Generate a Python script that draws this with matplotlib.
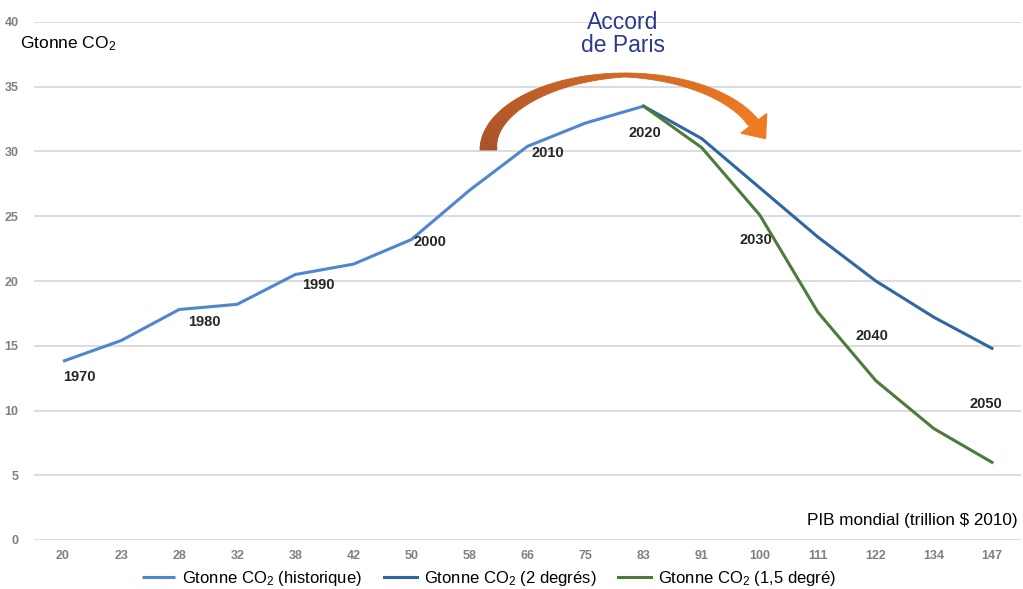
import matplotlib
matplotlib.use("Agg")
import matplotlib.pyplot as plt
import numpy as np
from matplotlib.patches import Polygon

plt.rcParams['font.family'] = ['Liberation Sans', 'DejaVu Sans']
plt.rcParams['mathtext.fontset'] = 'custom'
plt.rcParams['mathtext.rm'] = 'Liberation Sans'
plt.rcParams['mathtext.it'] = 'Liberation Sans'

# PIB mondial (trillion $ 2010) - categories
pib = ['20', '23', '28', '32', '38', '42', '50', '58', '66',
       '75', '83', '91', '100', '111', '122', '134', '147']

# historical emissions, 1970 -> 2020
hist = [13.8, 15.4, 17.8, 18.2, 20.5, 21.3, 23.2, 27.0, 30.4, 32.2, 33.5]
# scenarios from 2020 on
deg2 = [33.5, 31.0, 27.2, 23.4, 20.0, 17.2, 14.8]
deg15 = [33.5, 30.3, 25.1, 17.6, 12.3, 8.6, 6.0]

years = ['1970', '1980', '1990', '2000', '2010', '2020', '2030', '2040', '2050']
year_x = [0.29, 2.44, 4.39, 6.32, 8.35, 10.02, 11.94, 13.94, 15.89]
year_y = [12.6, 16.8, 19.7, 23.0, 29.9, 31.4, 23.2, 15.75, 10.5]

c_hist = '#4f86d0'
c_2 = '#2f67a3'
c_15 = '#4e7a3a'

fig = plt.figure(figsize=(10.23, 5.89), dpi=100)
ax = fig.add_axes([34 / 1023, 1 - 540 / 589, (1021 - 34) / 1023, (540 - 22) / 589])

x_all = np.arange(len(pib))
ax.plot(x_all[:len(hist)], hist, color=c_hist, lw=2.2,
        label='Gtonne CO$_2$ (historique)', solid_capstyle='butt')
ax.plot(x_all[10:], deg2, color=c_2, lw=2.2,
        label='Gtonne CO$_2$ (2 degrés)')
ax.plot(x_all[10:], deg15, color=c_15, lw=2.2,
        label='Gtonne CO$_2$ (1,5 degré)')

for yr, xx, yy in zip(years, year_x, year_y):
    ax.text(xx, yy, yr, ha='center', va='center', fontsize=10.5,
            fontweight='bold', color='#262626')

ax.set_xlim(-0.5, len(pib) - 0.5)
ax.set_ylim(0, 40)
ax.set_yticks(range(0, 41, 5))
ax.set_xticks(x_all)
ax.set_xticklabels(pib)
ax.tick_params(length=0, labelsize=9, labelcolor='#808080')
ax.tick_params(axis='y', pad=11)
ax.tick_params(axis='x', pad=7)
for lab in ax.get_xticklabels() + ax.get_yticklabels():
    lab.set_fontweight('bold')
ax.grid(axis='y', color='#d9d9d9', lw=1.3)
ax.set_axisbelow(True)
for s in ax.spines.values():
    s.set_visible(False)

fig.text(20 / 1023, 1 - 44 / 589, 'Gtonne CO$_2$', fontsize=12.5, va='center', ha='left')
fig.text(1018 / 1023, 1 - 520 / 589, 'PIB mondial (trillion $ 2010)', fontsize=12.3,
         va='center', ha='right')
fig.text(623 / 1023, 1 - 34 / 589, 'Accord\nde Paris', fontsize=16.5, color='#2b3990',
         ha='center', va='center', linespacing=0.95)

fig.legend(loc='center', bbox_to_anchor=(489 / 1023, 1 - 578 / 589), ncol=3,
           frameon=False, fontsize=12, handlelength=2.0, columnspacing=1.3,
           handletextpad=0.4, borderpad=0)

# curved "Accord de Paris" arrow drawn in pixel coordinates
ov = fig.add_axes([0, 0, 1, 1])
ov.set_xlim(0, 1023)
ov.set_ylim(589, 0)
ov.axis('off')
cx, cy, rx, ry = 625, 150, 145, 77
th = np.radians(np.linspace(180, 22, 80))
thick = np.interp(np.degrees(th), [22, 90, 180], [12, 4, 17])
ox = cx + rx * np.cos(th)
oy = cy - ry * np.sin(th)
ix = cx + (rx - thick) * np.cos(th)
iy = cy - (ry - thick) * np.sin(th)
c0 = np.array([0.66, 0.32, 0.16])
c1 = np.array([0.94, 0.48, 0.13])
for i in range(len(th) - 1):
    f = i / (len(th) - 2)
    col = c0 + (c1 - c0) * f
    pts = [(ox[i], oy[i]), (ox[i + 1], oy[i + 1]), (ix[i + 1], iy[i + 1]), (ix[i], iy[i])]
    ov.add_patch(Polygon(pts, closed=True, facecolor=col, edgecolor=col, lw=0.6))
t_end = th[-1]
d = np.array([rx * np.sin(t_end), ry * np.cos(t_end)])
d = d / np.linalg.norm(d)
nrm = np.array([-d[1], d[0]])
base = np.array([(ox[-1] + ix[-1]) / 2, (oy[-1] + iy[-1]) / 2])
head = [base + nrm * 16, base - nrm * 16, base + d * 19]
ov.add_patch(Polygon(head, closed=True, facecolor=c1, edgecolor=c1))

fig.savefig('out.png', dpi=100)
